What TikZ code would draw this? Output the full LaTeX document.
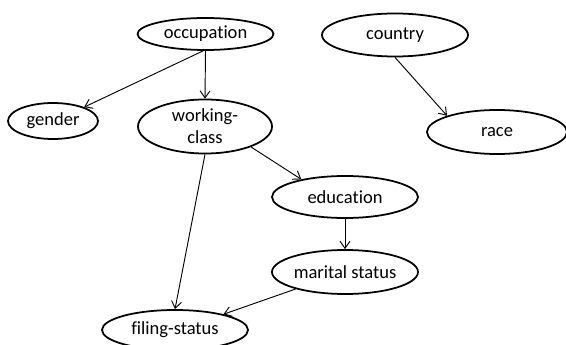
\documentclass[tikz,border=0pt]{standalone}
\usepackage{fontspec}
\setmainfont{Carlito}[Ligatures=NoCommon]
\usetikzlibrary{shapes.geometric,arrows.meta}
\tikzset{
  ell/.style 2 args={ellipse, draw, line width=1.5pt, inner sep=0pt,
    minimum width={#1*0.6mm}, minimum height={#2*0.6mm},
    font=\fontsize{15.8}{18.6}\selectfont, align=center},
  link/.style={-{Straight Barb[length=6pt,width=8.5pt,line width=0.8pt]}, line width=0.8pt}
}
\begin{document}
\begin{tikzpicture}[x=0.03cm,y=-0.03cm]
  \useasboundingbox (0,0) rectangle (566,345);
  % variables
  \node[ell={68}{16}] (occ) at (205.5,34) {occupation};
  \node[ell={45}{18}] (gen) at (53,121) {gender};
  \node[ell={67}{27}] (wc) at (205,126.5) {working-\\class};
  \node[ell={73}{21.5}] (cty) at (395,35) {country};
  \node[ell={70}{22}] (race) at (497,132) {race};
  \node[ell={73}{21}] (edu) at (345,197) {education};
  \node[ell={73}{22}] (mar) at (345,272) {marital status};
  \node[ell={73}{20}] (fil) at (175,330) {filing-status};
  % dependencies
  \draw[link] (occ.262) -- (gen.24);
  \draw[link] (occ.south) -- (wc.north);
  \draw[link] (wc.-24) -- (edu.158);
  \draw[link] (wc.south) -- (fil.north);
  \draw[link] (edu.south) -- (mar.north);
  \draw[link] (mar.199) -- (fil.18);
  \draw[link] (cty.south) -- (race.162);
\end{tikzpicture}
\end{document}
